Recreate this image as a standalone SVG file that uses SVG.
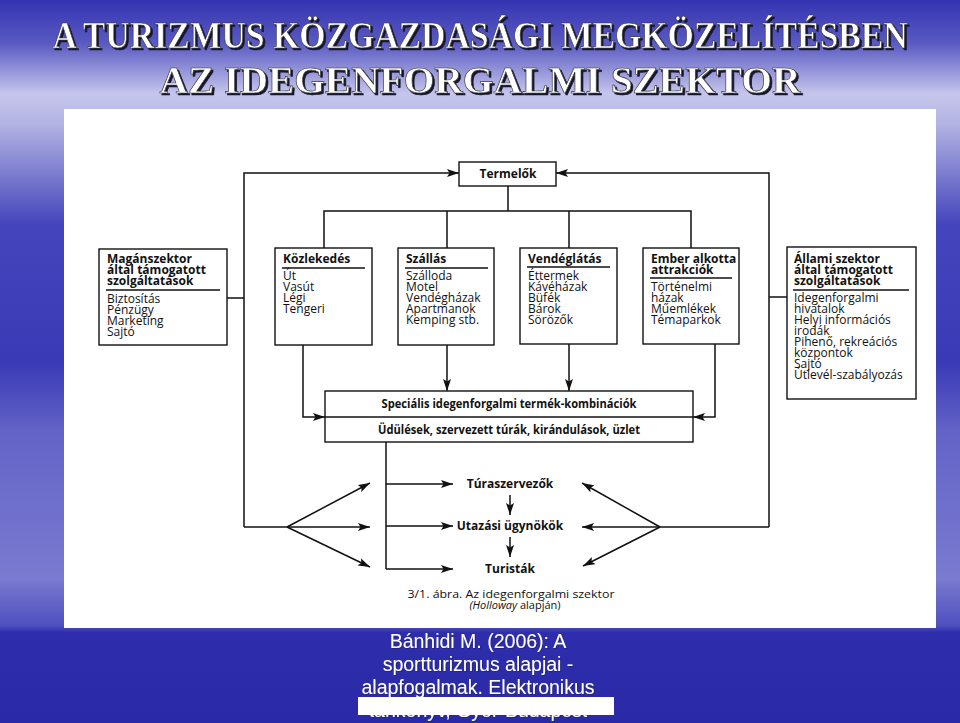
<svg xmlns="http://www.w3.org/2000/svg" width="960" height="723" viewBox="0 0 960 723">
<defs>
<linearGradient id="bg" x1="0" y1="0" x2="0" y2="1">
<stop offset="0" stop-color="#3434b2"/>
<stop offset="0.06" stop-color="#5a5ac2"/>
<stop offset="0.13" stop-color="#c6c6ec"/>
<stop offset="0.17" stop-color="#b4b4e4"/>
<stop offset="0.31" stop-color="#4545bd"/>
<stop offset="0.5" stop-color="#3a3ab6"/>
<stop offset="0.6" stop-color="#6464c8"/>
<stop offset="0.8" stop-color="#7a7ad0"/>
<stop offset="0.865" stop-color="#5050c0"/>
<stop offset="0.875" stop-color="#2e2eac"/>
<stop offset="1" stop-color="#2a2aa8"/>
</linearGradient>
<filter id="tsh" x="-5%" y="-30%" width="110%" height="160%">
<feDropShadow dx="2" dy="1.6" stdDeviation="0.4" flood-color="#151530" flood-opacity="1"/>
</filter>
<filter id="csh" x="-5%" y="-30%" width="110%" height="160%">
<feDropShadow dx="1" dy="1" stdDeviation="0.5" flood-color="#1a1a60" flood-opacity="0.6"/>
</filter>
<marker id="ah" viewBox="0 0 12 8" refX="12" refY="4" markerWidth="12" markerHeight="8" orient="auto" markerUnits="userSpaceOnUse">
<path d="M0,0 L12,4 L0,8 L2.5,4 z" fill="#111"/>
</marker>
</defs>
<style>
.title{font-family:"Liberation Serif",serif;font-weight:bold;font-size:30px;text-anchor:middle;fill:#fff;stroke:#333;stroke-width:0.5;filter:url(#tsh)}
.box{fill:#fff;stroke:#111;stroke-width:1.4}
.t{font-family:"Open Sans",sans-serif;font-size:12px;fill:#111}
.b{font-weight:bold}
.c{text-anchor:middle}
.rule{stroke:#111;stroke-width:1.4}
.ln{fill:none;stroke:#111;stroke-width:1.5}
.ar{marker-end:url(#ah)}
.cite{font-family:"Liberation Sans",sans-serif;font-size:19.5px;fill:#fff;text-anchor:middle;filter:url(#csh)}
</style>
<rect x="0" y="0" width="960" height="723" fill="url(#bg)"/>
<g id="title">
<text class="title" transform="translate(480 48) scale(1 1.27)" x="0" y="0" textLength="855" lengthAdjust="spacingAndGlyphs">A TURIZMUS KÖZGAZDASÁGI MEGKÖZELÍTÉSBEN</text>
<text class="title" transform="translate(480 93) scale(1 1.27)" x="0" y="0" textLength="641" lengthAdjust="spacingAndGlyphs">AZ IDEGENFORGALMI SZEKTOR</text>
</g>
<rect x="64" y="109" width="872" height="519" fill="#fff"/>
<g id="connectors">
<path class="ln ar" d="M244 527 V173 H459"/>
<path class="ln" d="M227 298 H244"/>
<path class="ln ar" d="M769 527 V173 H556"/>
<path class="ln" d="M787 297 H769"/>
<path class="ln" d="M508 186 V211 M324 248 V211 H691 V248 M447 211 V248 M569 211 V248"/>
<path class="ln ar" d="M303 345 V417 H325"/>
<path class="ln ar" d="M447 345 V391"/>
<path class="ln ar" d="M569 344 V391"/>
<path class="ln ar" d="M715 344 V417 H693"/>
<path class="ln" d="M386 442 V569"/>
<path class="ln ar" d="M386 484 H453"/>
<path class="ln ar" d="M386 526 H453"/>
<path class="ln ar" d="M386 569 H453"/>
<path class="ln ar" d="M510 495 V515"/>
<path class="ln ar" d="M510 537 V557"/>
<path class="ln" d="M244 527 H287"/>
<path class="ln ar" d="M287 527 L370 483"/>
<path class="ln ar" d="M287 527 L370 527"/>
<path class="ln ar" d="M287 527 L370 567"/>
<path class="ln" d="M769 527 H660"/>
<path class="ln ar" d="M660 527 L582 483"/>
<path class="ln ar" d="M660 527 L582 527"/>
<path class="ln ar" d="M660 527 L583 566"/>
</g>
<g id="termelok">
<rect class="box" x="459" y="162" width="97" height="24"/>
<text class="t b c" x="508" y="178">Termelők</text>
</g>
<g id="maganszektor">
<rect class="box" x="99" y="249" width="128" height="96"/>
<text class="t b" x="107" y="263">Magánszektor</text>
<text class="t b" x="107" y="274">által támogatott</text>
<text class="t b" x="107" y="285">szolgáltatások</text>
<line class="rule" x1="106" y1="290" x2="220" y2="290"/>
<text class="t" x="107" y="303">Biztosítás</text>
<text class="t" x="107" y="314">Pénzügy</text>
<text class="t" x="107" y="325">Marketing</text>
<text class="t" x="107" y="336">Sajtó</text>
</g>
<g id="kozlekedes">
<rect class="box" x="275" y="248" width="97" height="97"/>
<text class="t b" x="283" y="263">Közlekedés</text>
<line class="rule" x1="282" y1="268" x2="365" y2="268"/>
<text class="t" x="283" y="280">Út</text>
<text class="t" x="283" y="291">Vasút</text>
<text class="t" x="283" y="302">Légi</text>
<text class="t" x="283" y="313">Tengeri</text>
</g>
<g id="szallas">
<rect class="box" x="398" y="248" width="96" height="97"/>
<text class="t b" x="406" y="263">Szállás</text>
<line class="rule" x1="405" y1="268" x2="488" y2="268"/>
<text class="t" x="406" y="280">Szálloda</text>
<text class="t" x="406" y="291">Motel</text>
<text class="t" x="406" y="302">Vendégházak</text>
<text class="t" x="406" y="313">Apartmanok</text>
<text class="t" x="406" y="324">Kemping stb.</text>
</g>
<g id="vendeglatas">
<rect class="box" x="520" y="248" width="97" height="96"/>
<text class="t b" x="528" y="263">Vendéglátás</text>
<line class="rule" x1="527" y1="267" x2="610" y2="267"/>
<text class="t" x="528" y="280">Éttermek</text>
<text class="t" x="528" y="291">Kávéházak</text>
<text class="t" x="528" y="302">Büfék</text>
<text class="t" x="528" y="313">Bárok</text>
<text class="t" x="528" y="324">Sörözők</text>
</g>
<g id="ember">
<rect class="box" x="643" y="248" width="96" height="96"/>
<text class="t b" x="651" y="263">Ember alkotta</text>
<text class="t b" x="651" y="274">attrakciók</text>
<line class="rule" x1="650" y1="278" x2="732" y2="278"/>
<text class="t" x="651" y="291">Történelmi</text>
<text class="t" x="651" y="302">házak</text>
<text class="t" x="651" y="313">Műemlékek</text>
<text class="t" x="651" y="324">Témaparkok</text>
</g>
<g id="allami">
<rect class="box" x="787" y="247" width="129" height="152"/>
<text class="t b" x="794" y="263">Állami szektor</text>
<text class="t b" x="794" y="274">által támogatott</text>
<text class="t b" x="794" y="285">szolgáltatások</text>
<line class="rule" x1="793" y1="290" x2="909" y2="290"/>
<text class="t" x="794" y="302">Idegenforgalmi</text>
<text class="t" x="794" y="313">hivatalok</text>
<text class="t" x="794" y="324">Helyi információs</text>
<text class="t" x="794" y="335">irodák</text>
<text class="t" x="794" y="346">Pihenő, rekreációs</text>
<text class="t" x="794" y="357">központok</text>
<text class="t" x="794" y="368">Sajtó</text>
<text class="t" x="794" y="379">Útlevél-szabályozás</text>
</g>
<g id="specialis">
<rect class="box" x="325" y="391" width="368" height="51"/>
<line class="rule" x1="325" y1="417" x2="693" y2="417"/>
<text class="t b c" x="509" y="408" textLength="255" lengthAdjust="spacingAndGlyphs">Speciális idegenforgalmi termék-kombinációk</text>
<text class="t b c" x="509" y="434" textLength="262" lengthAdjust="spacingAndGlyphs">Üdülések, szervezett túrák, kirándulások, üzlet</text>
</g>
<g id="turaszervezok">
<text class="t b c" x="510" y="488">Túraszervezők</text>
</g>
<g id="utazasi">
<text class="t b c" x="510" y="530">Utazási ügynökök</text>
</g>
<g id="turistak">
<text class="t b c" x="510" y="573">Turisták</text>
</g>
<g id="caption">
<text class="t c" x="511" y="598" style="font-size:11px" textLength="207" lengthAdjust="spacingAndGlyphs">3/1. ábra. Az idegenforgalmi szektor</text>
<text class="t c" x="515" y="609" style="font-size:11px"><tspan font-style="italic">(Holloway</tspan> alapján)</text>
</g>
<g id="citation">
<text class="cite" x="478" y="648">Bánhidi M. (2006): A</text>
<text class="cite" x="478" y="671">sportturizmus alapjai -</text>
<text class="cite" x="478" y="694">alapfogalmak. Elektronikus</text>
<text class="cite" x="478" y="717">tankönyv, Győr-Budapest</text>
<rect x="358" y="697" width="256" height="18" fill="#fff"/>
</g>
</svg>
